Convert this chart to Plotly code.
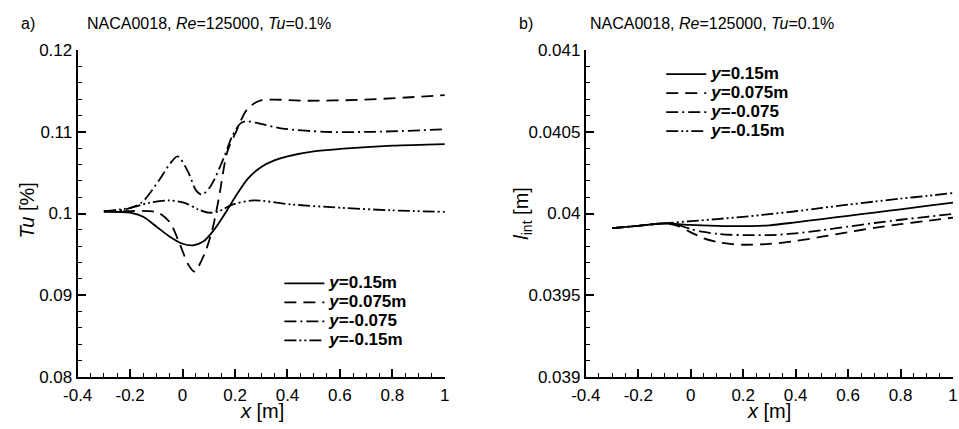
import plotly.graph_objects as go

W, H = 959, 429

# ---------------- data: panel a) Tu [%] ----------------
xa_s = [-0.3, -0.2, -0.15, -0.1, -0.05, 0.0, 0.04, 0.08, 0.12, 0.16, 0.2, 0.25, 0.3, 0.35, 0.4, 0.5, 0.6, 0.8, 1.0]
ya_s = [0.10025, 0.1001, 0.0996, 0.0984, 0.0972, 0.0963, 0.0961, 0.0966, 0.0980, 0.0999, 0.1020, 0.1043, 0.1057, 0.1065, 0.1070, 0.1076, 0.1079, 0.1083, 0.1085]

xa_d = [-0.3, -0.2, -0.13, -0.091, -0.048, -0.010, 0.021, 0.045, 0.083, 0.114, 0.139, 0.170, 0.201, 0.245, 0.294, 0.481, 0.668, 0.854, 1.0]
ya_d = [0.10025, 0.1003, 0.1003, 0.1001, 0.0989, 0.0962, 0.0938, 0.0929, 0.0950, 0.0981, 0.1020, 0.1075, 0.1098, 0.1127, 0.1138, 0.1138, 0.1139, 0.1142, 0.1145]

xa_dd = [-0.3, -0.216, -0.154, -0.091, -0.048, -0.019, 0.021, 0.052, 0.074, 0.108, 0.157, 0.190, 0.220, 0.245, 0.294, 0.381, 0.543, 0.730, 1.0]
ya_dd = [0.10025, 0.1005, 0.1014, 0.1040, 0.1061, 0.1070, 0.1051, 0.1028, 0.1023, 0.1034, 0.1068, 0.1095, 0.1110, 0.1113, 0.1110, 0.1104, 0.1100, 0.1100, 0.1103]

xa_ddd = [-0.3, -0.2, -0.129, -0.054, 0.008, 0.060, 0.100, 0.140, 0.190, 0.270, 0.419, 0.605, 0.792, 1.0]
ya_ddd = [0.10025, 0.1007, 0.1013, 0.1016, 0.1013, 0.1005, 0.1001, 0.1003, 0.1011, 0.1016, 0.1011, 0.1007, 0.1004, 0.1002]

# ---------------- data: panel b) l_int [m] ----------------
xb_s = [-0.3, -0.2, -0.1, 0.0, 0.1, 0.2, 0.3, 0.4, 0.5, 0.6, 0.7, 0.8, 0.9, 1.0]
yb_s = [0.03991, 0.039925, 0.03994, 0.03993, 0.039925, 0.039923, 0.039928, 0.039946, 0.039966, 0.039986, 0.040006, 0.040026, 0.040047, 0.040067]

xb_d = [-0.3, -0.2, -0.1, -0.05, 0.0, 0.05, 0.1, 0.15, 0.2, 0.3, 0.4, 0.5, 0.6, 0.7, 0.8, 0.9, 1.0]
yb_d = [0.03991, 0.039925, 0.03994, 0.039925, 0.039885, 0.039848, 0.039826, 0.039814, 0.039809, 0.039814, 0.039832, 0.039858, 0.039886, 0.039912, 0.039935, 0.039955, 0.039975]

xb_dd = [-0.3, -0.2, -0.1, -0.05, 0.0, 0.05, 0.1, 0.15, 0.2, 0.3, 0.4, 0.5, 0.6, 0.7, 0.8, 0.9, 1.0]
yb_dd = [0.03991, 0.039925, 0.03994, 0.03993, 0.039905, 0.039887, 0.039876, 0.039870, 0.039868, 0.039868, 0.039878, 0.039898, 0.039920, 0.039942, 0.039962, 0.039980, 0.039998]

xb_ddd = [-0.3, -0.2, -0.1, 0.0, 0.1, 0.2, 0.3, 0.4, 0.5, 0.6, 0.7, 0.8, 0.9, 1.0]
yb_ddd = [0.03991, 0.039925, 0.03994, 0.039953, 0.039966, 0.03998, 0.039996, 0.040014, 0.040034, 0.040054, 0.040073, 0.040091, 0.040108, 0.040125]

series_labels = ["<i>y</i>=0.15m", "<i>y</i>=0.075m", "<i>y</i>=-0.075", "<i>y</i>=-0.15m"]

x_tickvals = [-0.4, -0.2, 0, 0.2, 0.4, 0.6, 0.8, 1]
x_ticktext = ["-0.4", "-0.2", "0", "0.2", "0.4", "0.6", "0.8", "1"]
ya_tickvals = [0.08, 0.09, 0.1, 0.11, 0.12]
ya_ticktext = ["0.08", "0.09", "0.1", "0.11", "0.12"]
yb_tickvals = [0.039, 0.0395, 0.04, 0.0405, 0.041]
yb_ticktext = ["0.039", "0.0395", "0.04", "0.0405", "0.041"]

dashes = ["solid", "12px,7px", "12px,4px,2px,4px", "12px,3px,2px,3px,2px,3px"]

FONT = "Arial, Liberation Sans, sans-serif"


def legend_name(label):
    return '<span style="font-size:17px"><b>' + label + '</b></span>'


fig = go.Figure()

panel_a = [(xa_s, ya_s), (xa_d, ya_d), (xa_dd, ya_dd), (xa_ddd, ya_ddd)]
panel_b = [(xb_s, yb_s), (xb_d, yb_d), (xb_dd, yb_dd), (xb_ddd, yb_ddd)]

for (xs, ys), label, dash in zip(panel_a, series_labels, dashes):
    fig.add_trace(go.Scatter(x=xs, y=ys, mode="lines", name=legend_name(label),
                             line=dict(color="black", width=1.8, dash=dash, shape="spline", smoothing=0.8),
                             xaxis="x", yaxis="y", legend="legend"))
for (xs, ys), label, dash in zip(panel_b, series_labels, dashes):
    fig.add_trace(go.Scatter(x=xs, y=ys, mode="lines", name=legend_name(label),
                             line=dict(color="black", width=1.8, dash=dash, shape="spline", smoothing=0.8),
                             xaxis="x2", yaxis="y2", legend="legend2"))


def px_x(p):
    return p / W


def px_y(p):
    return 1 - p / H


axis_common = dict(showline=True, linecolor="black", linewidth=2, mirror=False,
                   showgrid=False, zeroline=False, ticks="inside", ticklen=8,
                   tickwidth=1.5, tickcolor="black",
                   tickfont=dict(family=FONT, size=17, color="black"))

fig.update_layout(
    width=W, height=H,
    margin=dict(l=0, r=0, t=0, b=0),
    paper_bgcolor="white", plot_bgcolor="white",
    font=dict(family=FONT, color="black"),
    xaxis=dict(domain=[px_x(64), px_x(439)], range=[-0.4, 1], anchor="y",
               tickvals=x_tickvals, ticktext=x_ticktext, ticklabelstandoff=2,
               minor=dict(ticks="inside", ticklen=4, tickwidth=1, tickcolor="black", dtick=0.05, tick0=0),
               **axis_common),
    yaxis=dict(domain=[px_y(385), px_y(43)], range=[0.08, 0.12], anchor="x",
               tickvals=ya_tickvals, ticktext=ya_ticktext,
               minor=dict(ticks="inside", ticklen=4, tickwidth=1, tickcolor="black", dtick=0.002, tick0=0.08),
               **axis_common),
    xaxis2=dict(domain=[px_x(583), px_x(958)], range=[-0.4, 1], anchor="y2",
                tickvals=x_tickvals, ticktext=x_ticktext, ticklabelstandoff=2,
                minor=dict(ticks="inside", ticklen=4, tickwidth=1, tickcolor="black", dtick=0.05, tick0=0),
                **axis_common),
    yaxis2=dict(domain=[px_y(385), px_y(43)], range=[0.039, 0.041], anchor="x2",
                tickvals=yb_tickvals, ticktext=yb_ticktext,
                minor=dict(ticks="inside", ticklen=4, tickwidth=1, tickcolor="black", dtick=0.0001, tick0=0.039),
                **axis_common),
    legend=dict(x=px_x(270), y=px_y(272), xanchor="left", yanchor="top",
                bgcolor="rgba(0,0,0,0)", itemwidth=40, tracegroupgap=0,
                font=dict(family=FONT, size=12, color="black")),
    legend2=dict(x=px_x(660), y=px_y(53), xanchor="left", yanchor="top",
                 bgcolor="rgba(0,0,0,0)", itemwidth=40, tracegroupgap=0,
                 font=dict(family=FONT, size=12, color="black")),
    showlegend=True,
)

title_txt = "NACA0018, <i>Re</i>=125000, <i>Tu</i>=0.1%"
ann = [
    dict(text="a)", x=px_x(4), y=px_y(15), xanchor="left", yanchor="middle", font=dict(size=16)),
    dict(text=title_txt, x=px_x(72), y=px_y(15), xanchor="left", yanchor="middle", font=dict(size=16)),
    dict(text="b)", x=px_x(513), y=px_y(15), xanchor="left", yanchor="middle", font=dict(size=16)),
    dict(text=title_txt, x=px_x(585), y=px_y(15), xanchor="left", yanchor="middle", font=dict(size=16)),
    dict(text="<i>x</i> [m]", x=px_x(252), y=px_y(421), xanchor="center", yanchor="middle", font=dict(size=20)),
    dict(text="<i>x</i> [m]", x=px_x(770), y=px_y(421), xanchor="center", yanchor="middle", font=dict(size=20)),
    dict(text="<i>Tu</i> [%]", x=px_x(12), y=px_y(211), xanchor="center", yanchor="middle",
         textangle=-90, font=dict(size=20)),
    dict(text="<i>l</i><sub>int</sub> [m]", x=px_x(518), y=px_y(214), xanchor="center", yanchor="middle",
         textangle=-90, font=dict(size=20)),
]
for a in ann:
    a.update(xref="paper", yref="paper", showarrow=False)
    a["font"].update(family=FONT, color="black")
fig.update_layout(annotations=ann)

fig.write_html("out.html")
